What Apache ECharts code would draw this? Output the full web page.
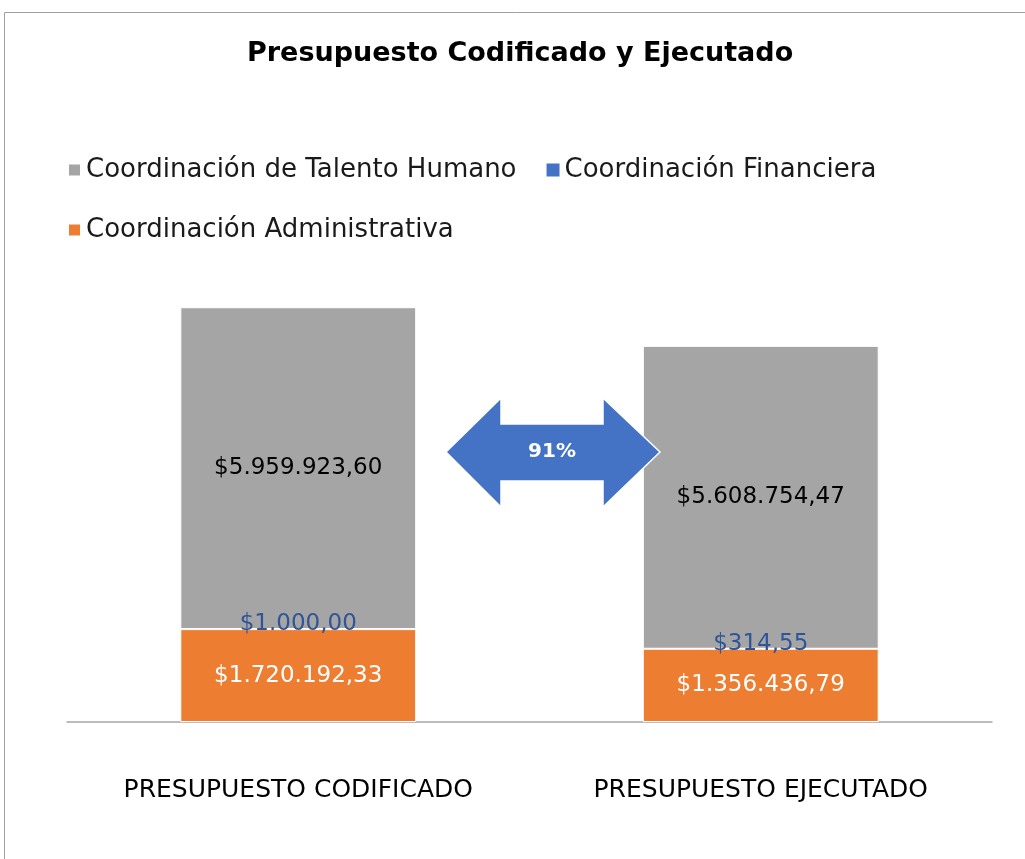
<!DOCTYPE html>
<html>
<head>
<meta charset="utf-8">
<title>Presupuesto Codificado y Ejecutado</title>
<script src="https://cdn.jsdelivr.net/npm/echarts@6/dist/echarts.min.js"></script>
<style>
  html, body { margin: 0; padding: 0; background: #fff; }
  #chart { width: 1025px; height: 859px; }
</style>
</head>
<body>
<div id="chart"></div>
<script>
// datos del grafico
const categories = ['PRESUPUESTO CODIFICADO', 'PRESUPUESTO EJECUTADO']
const administrativa = [1720192.33, 1356436.79]
const financiera = [1000.00, 314.55]
const talentoHumano = [5959923.60, 5608754.47]

const font = 'DejaVu Sans'

// formato $1.234.567,89
function money (v) {
  const parts = v.toFixed(2).split('.')
  const ent = parts[0].replace(/\B(?=(\d{3})+(?!\d))/g, '.')
  return '$' + ent + ',' + parts[1]
}

// porcentaje ejecutado / codificado
const total = (i) => administrativa[i] + financiera[i] + talentoHumano[i]
const pct = Math.round(total(1) / total(0) * 100) + '%'

const chart = echarts.init(document.getElementById('chart'))

const labelBase = {
  show: true,
  position: 'inside',
  fontFamily: font,
  fontSize: 23,
  formatter: (p) => money(p.value)
}

const option = {
  animation: false,
  textStyle: { fontFamily: font },
  title: {
    text: 'Presupuesto Codificado y Ejecutado',
    left: 242,
    top: 35,
    textStyle: { fontSize: 27, fontWeight: 'bold', color: '#000', fontFamily: font }
  },
  legend: {
    data: ['Coordinación de Talento Humano', 'Coordinación Financiera', 'Coordinación Administrativa'],
    left: 62,
    top: 150,
    width: 900,
    icon: 'rect',
    itemWidth: 13,
    itemHeight: 13,
    itemGap: 30,
    textStyle: { fontSize: 26, color: '#1a1a1a', lineHeight: 30, fontFamily: font }
  },
  grid: {
    left: 67,
    right: 33,
    top: 290,
    bottom: 137
  },
  xAxis: {
    type: 'category',
    data: categories,
    axisTick: { show: false },
    axisLine: { lineStyle: { color: '#a6a6a6', width: 1.5 } },
    axisLabel: { fontSize: 25, color: '#000', margin: 56, fontFamily: font }
  },
  yAxis: {
    type: 'value',
    min: 0,
    max: 8000000,
    show: false,
    splitLine: { show: false }
  },
  series: [
    {
      name: 'Coordinación Administrativa',
      type: 'bar',
      stack: 'total',
      barWidth: '51%',
      data: administrativa,
      itemStyle: { color: '#ed7d31', borderColor: '#fff', borderWidth: 1 },
      label: Object.assign({}, labelBase, { color: '#fff' })
    },
    {
      name: 'Coordinación Financiera',
      type: 'bar',
      stack: 'total',
      data: financiera,
      itemStyle: { color: '#4472c4' },
      label: Object.assign({}, labelBase, { color: '#2f5597', offset: [0, -5] })
    },
    {
      name: 'Coordinación de Talento Humano',
      type: 'bar',
      stack: 'total',
      data: talentoHumano,
      itemStyle: { color: '#a5a5a5', borderColor: '#fff', borderWidth: 1 },
      label: Object.assign({}, labelBase, { color: '#000' })
    }
  ],
  graphic: [
    // marco del grafico
    {
      type: 'rect',
      silent: true,
      shape: { x: 4.5, y: 12.5, width: 1100, height: 900 },
      style: { fill: 'none', stroke: '#a0a0a0', lineWidth: 1 }
    },
    // flecha doble con el porcentaje (encima de las barras)
    {
      type: 'polygon',
      silent: true,
      z: 100,
      shape: {
        points: [[446, 452], [501, 398], [501, 424], [603, 424], [603, 398], [660, 452],
          [603, 507], [603, 481], [501, 481], [501, 507]]
      },
      style: { fill: '#4472c4', stroke: '#fff', lineWidth: 1.5 }
    },
    {
      type: 'text',
      silent: true,
      z: 101,
      x: 552,
      y: 452,
      style: {
        text: pct,
        fill: '#fff',
        font: 'bold 20px "DejaVu Sans"',
        align: 'center',
        verticalAlign: 'middle'
      }
    }
  ]
}

chart.setOption(option)
</script>
</body>
</html>
